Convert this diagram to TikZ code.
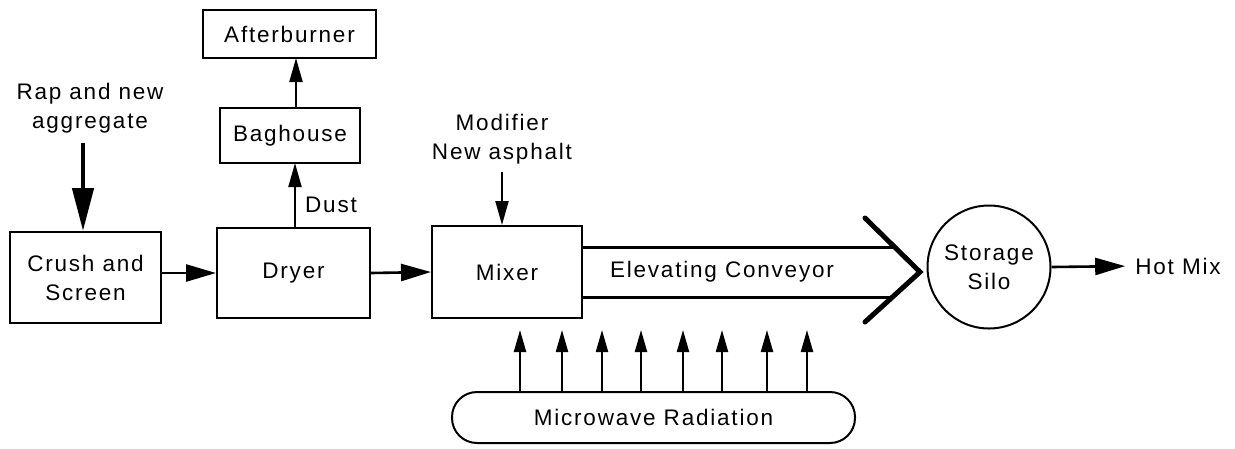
\documentclass[tikz,border=0pt]{standalone}
\usepackage{fontspec}
\setmainfont{Liberation Sans}[LetterSpace=8]
\usetikzlibrary{arrows.meta,shapes.geometric}
\begin{document}
\begin{tikzpicture}[x=1pt,y=-1pt,
  every node/.style={font=\fontsize{22.5}{29}\selectfont, align=center, inner sep=0pt},
  box/.style={draw, line width=2pt},
  flow/.style={line width=2.6pt, -{Triangle[length=30pt,width=17pt]}},
  thin arrow/.style={line width=2.2pt, -{Triangle[length=24pt,width=13pt]}},
  big arrow/.style={line width=4.5pt, -{Triangle[length=43pt,width=21pt]}},
  wave arrow/.style={line width=2.2pt, -{Triangle[length=22pt,width=12pt]}}
]
\useasboundingbox (0,0) rectangle (1235,448);
\fill[white] (0,0) rectangle (1235,448);

% boxes
\node[box, minimum width=151pt, minimum height=91pt] (crush) at (85.5,277.5) {Crush and\\Screen};
\node[box, minimum width=153pt, minimum height=90pt] (dryer) at (293.5,273) {Dryer};
\node[box, minimum width=150pt, minimum height=92pt] (mixer) at (507,272) {Mixer};
\node[box, minimum width=140pt, minimum height=55pt] (bag) at (290,135.5) {Baghouse};
\node[box, minimum width=173pt, minimum height=48pt] (after) at (289.5,34) {Afterburner};
\node[box, circle, minimum size=123pt] (silo) at (989,267) {Storage\\Silo};
\node[box, rounded corners=25pt, minimum width=403pt, minimum height=51pt] (micro) at (653.5,417.5) {Microwave Radiation};

% labels
\node (rap) at (90,108) {Rap and new\\aggregate};
\node (mod) at (502,139) {Modifier\\New asphalt};
\node (dust) at (331,205) {Dust};
\node (conv) at (722,272) {Elevating Conveyor};
\node (hot) at (1178,266) {Hot Mix};

% coordinates
\coordinate (rapstart) at (83,143);
\coordinate (modstart) at (502,172);
\coordinate (ctopend) at (894,247);
\coordinate (cbotend) at (890,297);
\coordinate (chevA) at (865,218);
\coordinate (chevB) at (920,272);
\coordinate (chevC) at (865,322);

% connectors
\draw[big arrow] (rapstart) -- (rapstart |- crush.north);
\draw[flow] (crush.east |- dryer.center) -- (dryer.west);
\draw[flow] (dryer.east) -- (mixer.west);
\draw[thin arrow] (295,228) -- (295,163);
\draw[thin arrow] (296,108) -- (296,58);
\draw[thin arrow] (modstart) -- (modstart |- mixer.north);
\draw[flow, shorten >=10pt] (silo.east) -- (hot.west);

% conveyor
\draw[line width=3pt] (mixer.east |- ctopend) -- (ctopend);
\draw[line width=3pt] (mixer.east |- cbotend) -- (cbotend);
\draw[line width=5pt, line cap=round, line join=miter] (chevA) -- (chevB) -- (chevC);

% microwave arrows
\foreach \x in {520,562,602,641,683,722,767,807}{
  \draw[wave arrow] (\x,392) -- (\x,330);
}
\end{tikzpicture}
\end{document}
